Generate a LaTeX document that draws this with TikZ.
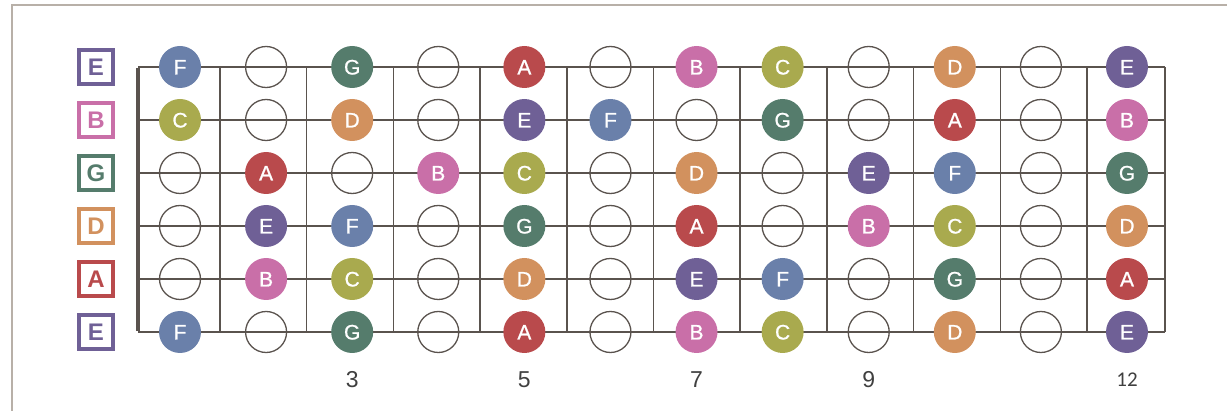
\documentclass[tikz,border=0pt]{standalone}
\usepackage{fontspec}
\setmainfont{Liberation Sans}
\newfontfamily\numfont{Carlito}
\newfontfamily\notefont[FakeBold=0.9]{Liberation Sans}
\definecolor{nF}{HTML}{6A80AA}
\definecolor{nC}{HTML}{A9AA4E}
\definecolor{nG}{HTML}{557C6C}
\definecolor{nA}{HTML}{B94A4C}
\definecolor{nB}{HTML}{C96FA8}
\definecolor{nE}{HTML}{6F6096}
\definecolor{nD}{HTML}{D2915E}
\definecolor{linec}{HTML}{5A534E}
\definecolor{framec}{HTML}{B8B0A8}
\definecolor{numc}{HTML}{404040}
\tikzset{
  note/.style={circle, fill=#1, minimum size=42pt, inner sep=0pt, text=white,
    font=\notefont\fontsize{21}{21}\selectfont, text height=15pt, text depth=0pt},
  emptynote/.style={circle, draw=linec, line width=1.3pt, minimum size=41pt, inner sep=0pt},
  strlabel/.style={draw=#1, text=#1, line width=4pt, minimum size=34pt, inner sep=0pt,
    font=\bfseries\fontsize{24}{24}\selectfont, text height=17.2pt, text depth=0pt},
  fretnum/.style={text=numc, font=\fontsize{23}{23}\selectfont},
  wire/.style={draw=linec, line width=1.5pt},
  nut/.style={draw=linec, line width=4pt}
}
\begin{document}
\begin{tikzpicture}[x=1pt,y=-1pt]
\useasboundingbox (0,0) rectangle (1227,411);
\draw[framec, line width=1.5pt] (12,411) -- (12,5) -- (1227,5);
% strings
\foreach \r in {1,...,6}{
  \coordinate (s\r a) at (138,{67+53*(\r-1)});
  \coordinate (s\r b) at (1165,{67+53*(\r-1)});
  \draw[wire] (s\r a) -- (s\r b);
}
% frets
\foreach \k in {0,...,10}{
  \coordinate (f\k a) at ({220+86.7*\k},67);
  \coordinate (f\k b) at ({220+86.7*\k},332);
  \draw[wire] (f\k a) -- (f\k b);
}
\draw[wire] (s1b) -- (s6b);
\draw[nut, line cap=butt] ([yshift=-1pt]s1a) -- ([yshift=1pt]s6a);
% string labels
\foreach \r/\L in {1/E,2/B,3/G,4/D,5/A,6/E}{
  \node[strlabel=n\L] (lab\r) at (96,{67+53*(\r-1)}) {\L};
}
% notes
\def\dash{-}
\foreach \r/\row in {1/{F,-,G,-,A,-,B,C,-,D,-,E},
                     2/{C,-,D,-,E,F,-,G,-,A,-,B},
                     3/{-,A,-,B,C,-,D,-,E,F,-,G},
                     4/{-,E,F,-,G,-,A,-,B,C,-,D},
                     5/{-,B,C,-,D,-,E,F,-,G,-,A},
                     6/{F,-,G,-,A,-,B,C,-,D,-,E}}{
  \foreach \n [count=\c] in \row {
    \edef\tmp{\n}
    \ifx\tmp\dash
      \node[emptynote] (n-\r-\c) at ({180+86.09*(\c-1)},{67+53*(\r-1)}) {};
    \else
      \node[note=n\n] (n-\r-\c) at ({180+86.09*(\c-1)},{67+53*(\r-1)}) {\n};
    \fi
  }
}
% fret numbers
\foreach \c/\t in {3/3,5/5,7/7,9/9}{
  \node[fretnum] (num\c) at ({180+86.09*(\c-1)},380) {\t};
}
\node[text=numc, font=\numfont\fontsize{21}{21}\selectfont] (num12) at (1127,380) {12};
\end{tikzpicture}
\end{document}
